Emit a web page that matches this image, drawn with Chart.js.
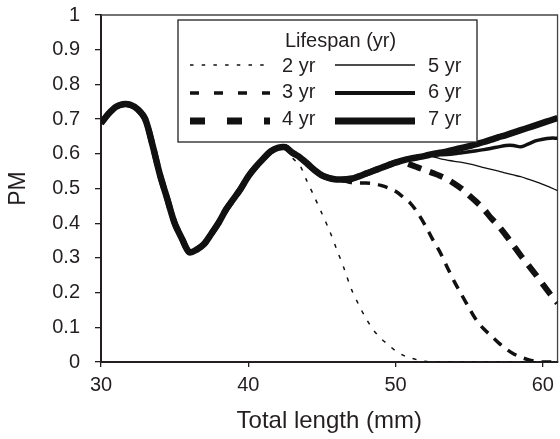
<!DOCTYPE html>
<html>
<head>
<meta charset="utf-8">
<script src="https://cdn.jsdelivr.net/npm/chart.js@4/dist/chart.umd.min.js"></script>
<style>
  body { margin: 0; background: #fff; }
  canvas { display: block; }
</style>
</head>
<body>
<canvas id="pmChart" width="560" height="439"></canvas>
<script>
  // total length (mm), 0.5 mm steps
  var lengths = [30, 30.5, 31, 31.5, 32, 32.5, 33, 33.5, 34, 34.5,
    35, 35.5, 36, 36.5, 37, 37.5, 38, 38.5, 39, 39.5,
    40, 40.5, 41, 41.5, 42, 42.5, 43, 43.5, 44, 44.5,
    45, 45.5, 46, 46.5, 47, 47.5, 48, 48.5, 49, 49.5,
    50, 50.5, 51, 51.5, 52, 52.5, 53, 53.5, 54, 54.5,
    55, 55.5, 56, 56.5, 57, 57.5, 58, 58.5, 59, 59.5,
    60, 60.5, 61]

  // 30 - 42.5 mm, same for every lifespan
  var commonPM = [0.688, 0.715, 0.735, 0.743, 0.741, 0.728, 0.70, 0.625, 0.54, 0.47,
    0.40, 0.355, 0.316, 0.324, 0.34, 0.37, 0.402, 0.44, 0.47, 0.50,
    0.535, 0.562, 0.585, 0.606, 0.617, 0.619]

  // 43 - 61 mm
  var pm2yr = [0.588, 0.567, 0.52, 0.475, 0.428, 0.38, 0.325, 0.27, 0.21, 0.165,
    0.125, 0.092, 0.068, 0.05, 0.032, 0.02, 0.012, 0.006, 0.002, 0,
    0, 0, 0, 0, 0, 0, 0, 0, 0, 0,
    0, 0, 0, 0, 0, 0, 0]
  var pm3yr = [0.603, 0.59, 0.572, 0.553, 0.538, 0.53, 0.526, 0.522, 0.517, 0.516,
    0.516, 0.514, 0.509, 0.502, 0.492, 0.476, 0.458, 0.43, 0.395, 0.355,
    0.318, 0.274, 0.231, 0.193, 0.155, 0.12, 0.095, 0.075, 0.055, 0.038,
    0.024, 0.014, 0.007, 0.002, 0, 0, 0]
  var pm4yr = [0.603, 0.59, 0.572, 0.553, 0.538, 0.53, 0.526, 0.526, 0.528, 0.535,
    0.543, 0.551, 0.559, 0.567, 0.575, 0.576, 0.569, 0.561, 0.553, 0.545,
    0.537, 0.527, 0.514, 0.499, 0.48, 0.461, 0.44, 0.414, 0.392, 0.365,
    0.336, 0.307, 0.28, 0.253, 0.224, 0.196, 0.17]
  var pm5yr = [0.603, 0.59, 0.572, 0.553, 0.538, 0.53, 0.526, 0.526, 0.528, 0.535,
    0.543, 0.551, 0.559, 0.567, 0.575, 0.581, 0.586, 0.59, 0.594, 0.592,
    0.586, 0.582, 0.578, 0.575, 0.571, 0.566, 0.56, 0.555, 0.55, 0.544,
    0.539, 0.534, 0.527, 0.52, 0.512, 0.503, 0.494]
  var pm6yr = [0.603, 0.59, 0.572, 0.553, 0.538, 0.53, 0.526, 0.526, 0.528, 0.535,
    0.543, 0.551, 0.559, 0.567, 0.575, 0.581, 0.586, 0.59, 0.594, 0.596,
    0.597, 0.598, 0.6, 0.603, 0.606, 0.609, 0.612, 0.616, 0.62, 0.624,
    0.624, 0.62, 0.628, 0.637, 0.642, 0.645, 0.645]
  var pm7yr = [0.603, 0.59, 0.572, 0.553, 0.538, 0.53, 0.526, 0.526, 0.528, 0.535,
    0.543, 0.551, 0.559, 0.567, 0.575, 0.581, 0.586, 0.59, 0.594, 0.599,
    0.603, 0.607, 0.612, 0.617, 0.622, 0.628, 0.634, 0.641, 0.648, 0.654,
    0.661, 0.668, 0.675, 0.682, 0.689, 0.696, 0.703]

  var seriesLabels = ['2 yr', '3 yr', '4 yr', '5 yr', '6 yr', '7 yr']
  var xTicks = [30, 40, 50, 60]
  var yTicks = [0, 0.1, 0.2, 0.3, 0.4, 0.5, 0.6, 0.7, 0.8, 0.9, 1]
  var legendTitle = 'Lifespan (yr)'

  var ink = '#231f20'
  Chart.defaults.font.family = '"Liberation Sans", Arial, sans-serif'
  Chart.defaults.color = ink

  function toPoints(tail){
    var ys = commonPM.concat(tail)
    return lengths.map(function(x, i){ return {x: x, y: ys[i]} })
  }

  var lineStyles = [
    {w: 1.5, dash: [4, 8], legendW: 1.3, legendDash: [3.5, 8.2]},
    {w: 3.5, dash: [10, 8], legendW: 3.5, legendDash: [9, 15]},
    {w: 6, dash: [14, 9], legendW: 7, legendDash: [15, 22]},
    {w: 1.3, dash: [], legendW: 1.3, legendDash: []},
    {w: 3.5, dash: [], legendW: 4, legendDash: []},
    {w: 6.5, dash: [], legendW: 7, legendDash: []}
  ]
  var tails = [pm2yr, pm3yr, pm4yr, pm5yr, pm6yr, pm7yr]

  var datasets = seriesLabels.map(function(lbl, i){
    return {
      label: lbl,
      data: toPoints(tails[i]),
      borderColor: '#111',
      borderWidth: lineStyles[i].w,
      borderDash: lineStyles[i].dash,
      borderCapStyle: 'butt',
      borderJoinStyle: 'round',
      pointRadius: 0,
      fill: false,
      tension: 0.3
    }
  })

  // thin frame on top and right
  const frame = {
    id: 'frame',
    beforeDatasetsDraw(chart){
      const {ctx, chartArea: {left, right, top, bottom}} = chart
      ctx.save()
      ctx.strokeStyle = '#444'
      ctx.lineWidth = 1.3
      ctx.beginPath()
      ctx.moveTo(left, top)
      ctx.lineTo(right, top)
      ctx.lineTo(right, bottom)
      ctx.stroke()
      ctx.restore()
    }
  }

  // boxed legend: two columns, sample line then label
  const lifespanLegend = {
    id: 'lifespanLegend',
    afterDatasetsDraw(chart){
      const {ctx, chartArea} = chart
      const x0 = chartArea.left + 77, y0 = chartArea.top + 5
      const w = 299, h = 122
      ctx.save()
      ctx.fillStyle = '#fff'
      ctx.fillRect(x0, y0, w, h)
      ctx.strokeStyle = ink
      ctx.lineWidth = 1.3
      ctx.strokeRect(x0, y0, w, h)
      ctx.font = '20px "Liberation Sans", Arial, sans-serif'
      ctx.fillStyle = ink
      ctx.textBaseline = 'alphabetic'
      ctx.fillText(legendTitle, x0 + 107, y0 + 27)
      const lineY = [45, 73, 101], textY = [52, 78, 105]
      for (let i = 0; i < seriesLabels.length; i++){
        const col = i < 3 ? 0 : 1, row = i % 3
        const sx = x0 + (col ? 157 : 12)
        const st = lineStyles[i]
        ctx.strokeStyle = '#111'
        ctx.lineWidth = st.legendW
        ctx.lineCap = 'butt'
        ctx.setLineDash(st.legendDash)
        ctx.beginPath()
        ctx.moveTo(sx, y0 + lineY[row])
        ctx.lineTo(sx + 80, y0 + lineY[row])
        ctx.stroke()
        ctx.setLineDash([])
        ctx.fillText(seriesLabels[i], sx + (col ? 93 : 92), y0 + textY[row])
      }
      ctx.restore()
    }
  }

  new Chart(document.getElementById('pmChart'), {
    type: 'line',
    data: {datasets: datasets},
    options: {
      responsive: false,
      animation: false,
      devicePixelRatio: 1,
      layout: {padding: {top: 15, right: 2, left: 0, bottom: 0}},
      plugins: {legend: {display: false}, tooltip: {enabled: false}},
      scales: {
        x: {
          type: 'linear',
          min: 30,
          max: 61,
          afterFit: function(s){ s.height = 77 },
          afterBuildTicks: function(s){ s.ticks = xTicks.map(function(v){ return {value: v} }) },
          grid: {drawOnChartArea: false, tickLength: 5, color: ink, lineWidth: 1.3},
          border: {color: ink, width: 2},
          ticks: {font: {size: 20}, padding: 6, maxRotation: 0, color: ink},
          title: {display: true, text: 'Total length (mm)', font: {size: 24}, padding: {top: 0, bottom: 3}, color: ink}
        },
        y: {
          min: 0,
          max: 1,
          afterFit: function(s){ s.width = 101; s.paddingTop = 0; s.paddingBottom = 0 },
          afterBuildTicks: function(s){ s.ticks = yTicks.map(function(v){ return {value: v} }) },
          grid: {drawOnChartArea: false, tickLength: 6, color: ink, lineWidth: 1.3},
          border: {color: ink, width: 2},
          ticks: {font: {size: 20}, padding: 15, color: ink, callback: function(v){ return String(v) }},
          title: {display: true, text: 'PM', font: {size: 23}, padding: {top: 5, bottom: 0}, color: ink}
        }
      }
    },
    plugins: [frame, lifespanLegend]
  })
</script>
</body>
</html>
